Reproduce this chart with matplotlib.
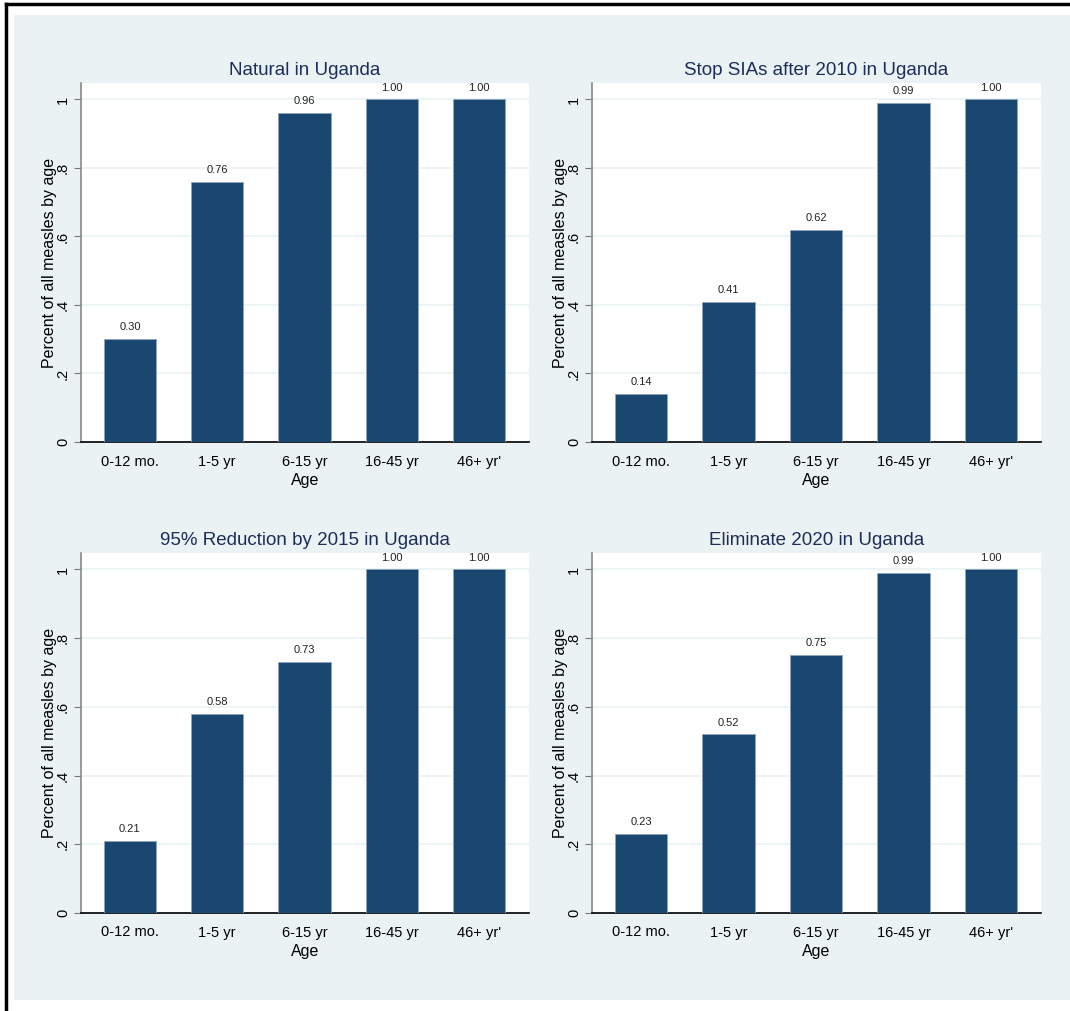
import numpy as np
import matplotlib
matplotlib.use('Agg')
import matplotlib.pyplot as plt
from matplotlib.patches import Rectangle
from matplotlib.lines import Line2D

plt.rcParams['font.family'] = ['Liberation Sans Narrow', 'Liberation Sans', 'DejaVu Sans']

ages = ['0-12 mo.', '1-5 yr', '6-15 yr', '16-45 yr', "46+ yr'"]
natural = [0.30, 0.76, 0.96, 1.00, 1.00]
stop_sias = [0.14, 0.41, 0.62, 0.99, 1.00]
reduction95 = [0.21, 0.58, 0.73, 1.00, 1.00]
eliminate = [0.23, 0.52, 0.75, 0.99, 1.00]
titles = ['Natural in Uganda', 'Stop SIAs after 2010 in Uganda',
          '95% Reduction by 2015 in Uganda', 'Eliminate 2020 in Uganda']
yticks = [0, 0.2, 0.4, 0.6, 0.8, 1.0]
ytick_labels = ['0', '.2', '.4', '.6', '.8', '1']

W, H = 1070, 1011
bg = '#eaf2f3'
bar_color = '#1a476f'
title_color = '#1c2d5a'

fig = plt.figure(figsize=(W / 100, H / 100), dpi=100)
fig.patch.set_facecolor('white')

# light stata-style background and the black frame
fig.patches.append(Rectangle((14 / W, 1 - 1000 / H), (W - 14) / W, 985 / H,
                             transform=fig.transFigure, facecolor=bg, edgecolor='none', zorder=-10))
fig.lines.append(Line2D([5.5 / W, 5.5 / W], [0, 1 - 4 / H], transform=fig.transFigure,
                        color='black', lw=2.5, zorder=-5))
fig.lines.append(Line2D([5.5 / W, 1], [1 - 4 / H, 1 - 4 / H], transform=fig.transFigure,
                        color='black', lw=2.5, zorder=-5))

# pixel boxes: left, right, top, bottom
boxes = [(81, 529, 83, 442), (592, 1041, 83, 442),
         (81, 529, 553, 913), (592, 1041, 553, 913)]
series = [natural, stop_sias, reduction95, eliminate]

x = np.arange(len(ages))
for (l, r, t, b), vals, title in zip(boxes, series, titles):
    ax = fig.add_axes([l / W, 1 - b / H, (r - l) / W, (b - t) / H])
    ax.set_facecolor('white')
    ax.bar(x, vals, width=0.6, color=bar_color, edgecolor='#8ea6bb', linewidth=0.6, zorder=3)
    for xi, v in zip(x, vals):
        ax.text(xi, v + 0.02, f'{v:.2f}', ha='center', va='bottom', fontsize=8, color='#222222', zorder=4)
    ax.set_xlim(-0.56, 4.57)
    ax.set_ylim(0, 1.048)
    ax.set_xticks(x)
    ax.set_xticklabels(ages, fontsize=10.5)
    ax.tick_params(axis='x', length=0, pad=9)
    ax.set_yticks(yticks)
    ax.set_yticklabels(ytick_labels, rotation=90, va='center', fontsize=10.5)
    ax.tick_params(axis='y', length=5, width=0.8, color='#777777', pad=3)
    ax.grid(axis='y', color=bg, lw=1.2, zorder=0)
    ax.set_axisbelow(True)
    for s in ['top', 'right']:
        ax.spines[s].set_visible(False)
    ax.spines['left'].set_color('#888888')
    ax.spines['left'].set_linewidth(1.2)
    ax.spines['bottom'].set_color('black')
    ax.spines['bottom'].set_linewidth(1.2)
    ax.set_ylabel('Percent of all measles by age', fontsize=11.5, labelpad=-1)
    ax.set_xlabel('Age', fontsize=11.5, labelpad=3)
    ax.set_title(title, fontsize=13.5, color=title_color, pad=6)

fig.savefig('out.png', dpi=100, facecolor=fig.get_facecolor())
